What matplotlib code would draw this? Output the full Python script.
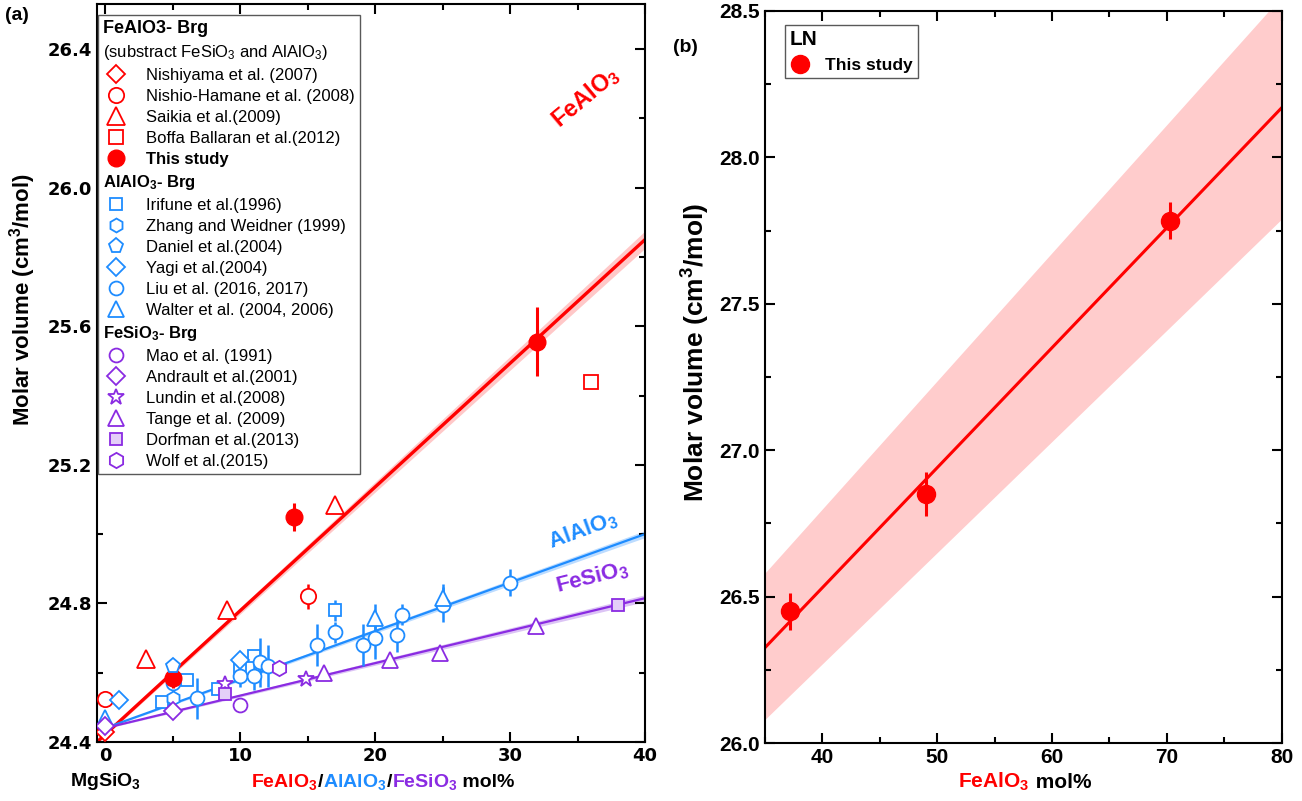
import numpy as np
import matplotlib
matplotlib.use('Agg')
import matplotlib.pyplot as plt
from matplotlib.lines import Line2D
from matplotlib.offsetbox import TextArea, HPacker, AnchoredOffsetbox
from matplotlib.ticker import MultipleLocator, FormatStrFormatter

plt.rcParams['font.family'] = ['Liberation Sans', 'DejaVu Sans']
plt.rcParams['mathtext.fontset'] = 'custom'
plt.rcParams['mathtext.rm'] = 'Liberation Sans'
plt.rcParams['mathtext.it'] = 'Liberation Sans:italic'
plt.rcParams['mathtext.bf'] = 'Liberation Sans:bold'

RED = '#ff0000'
BLUE = '#1e8cff'
PURPLE = '#8a2be2'

# ---- panel (a) data: FeAlO3 (red) ----
nishiyama_x = [0]
nishiyama_y = [24.43]
nishio_x = [0, 15]
nishio_y = [24.525, 24.82]
nishio_err = [0.02, 0.036]
saikia_x = [3, 9, 17]
saikia_y = [24.64, 24.78, 25.085]
boffa_x = [36]
boffa_y = [25.44]
study_x = [5, 14, 32]
study_y = [24.585, 25.05, 25.555]
study_err = [0.03, 0.04, 0.10]

# ---- AlAlO3 (blue) ----
irifune_x = [4.2, 6.1, 8.4, 10, 11, 17]
irifune_y = [24.515, 24.578, 24.552, 24.615, 24.647, 24.78]
irifune_err = [0.0, 0.01, 0.0, 0.02, 0.0, 0.03]
zhang_x = [5]
zhang_y = [24.528]
zhang_err = [0.035]
daniel_x = [5]
daniel_y = [24.618]
yagi_x = [1, 10]
yagi_y = [24.52, 24.637]
liu_x = [5, 6.8, 10, 11, 11.5, 12.1, 15.7, 17, 19.1, 20, 21.6, 22, 25, 30]
liu_y = [24.57, 24.526, 24.59, 24.589, 24.63, 24.62, 24.68, 24.717, 24.68,
         24.70, 24.71, 24.767, 24.796, 24.86]
liu_err = [0.03, 0.06, 0.03, 0.04, 0.07, 0.06, 0.06, 0.03, 0.06,
           0.06, 0.05, 0.03, 0.05, 0.04]
walter_x = [0, 20, 25]
walter_y = [24.468, 24.757, 24.815]
walter_err = [0.02, 0.04, 0.04]

# ---- FeSiO3 (purple) ----
mao_x = [10]
mao_y = [24.507]
andrault_x = [0, 5]
andrault_y = [24.445, 24.49]
lundin_x = [8.9, 14.9]
lundin_y = [24.568, 24.582]
tange_x = [16.2, 21.1, 24.8, 31.9]
tange_y = [24.60, 24.637, 24.658, 24.736]
dorfman_x = [8.9, 38]
dorfman_y = [24.539, 24.796]
wolf_x = [12.9]
wolf_y = [24.613]

# fit lines (end points) and band half widths
fe_fit_x = [-0.6, 40]
fe_fit_y = [24.40, 25.85]
fe_band = [0.004, 0.025]
al_fit_x = [0, 40]
al_fit_y = [24.44, 25.0]
al_band = [0.002, 0.01]
si_fit_x = [0, 40]
si_fit_y = [24.44, 24.815]
si_band = [0.002, 0.01]

# ---- panel (b) data ----
ln_x = [37.2, 49, 70.3]
ln_y = [26.45, 26.85, 27.784]
ln_err = [0.063, 0.074, 0.063]
ln_fit_x = [35, 80]
ln_fit_y = [26.325, 28.17]
ln_band_lo = [26.08, 27.79]
ln_band_hi = [26.58, 28.55]


def pts(ax, x, y, marker, color, label, ms=10, yerr=None, mfc='white', z=4):
    if yerr is not None:
        ax.errorbar(x, y, yerr=yerr, fmt='none', ecolor=color,
                    elinewidth=1.8, capsize=0, zorder=z - 1)
    h, = ax.plot(x, y, linestyle='none', marker=marker, ms=ms, mfc=mfc,
                 mec=color, mew=1.3, label=label, zorder=z)
    return h


def head(text):
    return Line2D([], [], linestyle='none', label=text)


def fit(ax, x, y, hw, color, band, lw):
    x = np.array(x)
    y = np.array(y)
    hw = np.array(hw)
    ax.fill_between(x, y - hw, y + hw, color=band, lw=0, zorder=1)
    ax.plot(x, y, color=color, lw=lw, zorder=2)


def style(ax, fam, size):
    for s in ax.spines.values():
        s.set_linewidth(1.5)
    ax.tick_params(which='both', direction='in', top=True, right=True, width=1.5)
    ax.tick_params(which='major', length=7)
    ax.tick_params(which='minor', length=4)
    for t in ax.get_xticklabels() + ax.get_yticklabels():
        t.set_fontfamily(fam)
        t.set_fontweight('bold')
        t.set_fontsize(size)


fig = plt.figure(figsize=(13.02, 8.01), dpi=100)
ax = fig.add_axes([0.0745, 0.0737, 0.4209, 0.9213])
bx = fig.add_axes([0.5874, 0.0724, 0.3971, 0.9139])

# ---------- panel (a) ----------
fit(ax, fe_fit_x, fe_fit_y, fe_band, RED, '#ffc8c8', 2.4)
fit(ax, al_fit_x, al_fit_y, al_band, BLUE, '#bcdcff', 1.6)
fit(ax, si_fit_x, si_fit_y, si_band, PURPLE, '#dcc4f5', 1.6)

h_nishiyama = pts(ax, nishiyama_x, nishiyama_y, 'D', RED, 'Nishiyama et al. (2007)', ms=9)
h_nishio = pts(ax, nishio_x, nishio_y, 'o', RED, 'Nishio-Hamane et al. (2008)', ms=11, yerr=nishio_err)
h_saikia = pts(ax, saikia_x, saikia_y, '^', RED, 'Saikia et al.(2009)', ms=13)
h_boffa = pts(ax, boffa_x, boffa_y, 's', RED, 'Boffa Ballaran et al.(2012)', ms=10)

h_irifune = pts(ax, irifune_x, irifune_y, 's', BLUE, 'Irifune et al.(1996)', ms=9, yerr=irifune_err)
h_zhang = pts(ax, zhang_x, zhang_y, 'h', BLUE, 'Zhang and Weidner (1999)', ms=10, yerr=zhang_err)
h_liu = pts(ax, liu_x, liu_y, 'o', BLUE, 'Liu et al. (2016, 2017)', ms=10, yerr=liu_err)
h_walter = pts(ax, walter_x, walter_y, '^', BLUE, 'Walter et al. (2004, 2006)', ms=11, yerr=walter_err)
h_yagi = pts(ax, yagi_x, yagi_y, 'D', BLUE, 'Yagi et al.(2004)', ms=9)
h_daniel = pts(ax, daniel_x, daniel_y, 'p', BLUE, 'Daniel et al.(2004)', ms=11, z=6)

h_mao = pts(ax, mao_x, mao_y, 'o', PURPLE, 'Mao et al. (1991)', ms=10)
h_andrault = pts(ax, andrault_x, andrault_y, 'D', PURPLE, 'Andrault et al.(2001)', ms=9)
h_lundin = pts(ax, lundin_x, lundin_y, '*', PURPLE, 'Lundin et al.(2008)', ms=12)
h_tange = pts(ax, tange_x, tange_y, '^', PURPLE, 'Tange et al. (2009)', ms=11)
h_dorfman = pts(ax, dorfman_x, dorfman_y, 's', PURPLE, 'Dorfman et al.(2013)', ms=9, mfc='#e4cff8')
h_wolf = pts(ax, wolf_x, wolf_y, 'h', PURPLE, 'Wolf et al.(2015)', ms=11)

ax.errorbar(study_x, study_y, yerr=study_err, fmt='none', ecolor=RED, elinewidth=2.2, capsize=0, zorder=4)
h_study, = ax.plot(study_x, study_y, 'o', color=RED, ms=12, label='This study', zorder=4)

ax.set_xlim(-0.6, 40)
ax.set_ylim(24.4, 26.53)
ax.xaxis.set_major_locator(MultipleLocator(10))
ax.xaxis.set_minor_locator(MultipleLocator(5))
ax.yaxis.set_major_locator(MultipleLocator(0.4))
ax.yaxis.set_minor_locator(MultipleLocator(0.2))
ax.yaxis.set_major_formatter(FormatStrFormatter('%.1f'))
ax.set_ylabel('Molar volume (cm$^\\mathbf{3}$/mol)', fontsize=16, fontweight='bold')
ax.yaxis.set_label_coords(-0.108, 0.60)
style(ax, 'DejaVu Sans', 13)

ax.text(35.56, 26.26, r'FeAlO$_\mathbf{3}$', color=RED, fontsize=17, fontweight='bold',
        rotation=40, ha='center', va='center')
ax.text(35.4, 25.01, r'AlAlO$_\mathbf{3}$', color=BLUE, fontsize=16, fontweight='bold',
        rotation=20, ha='center', va='center')
ax.text(36.1, 24.874, r'FeSiO$_\mathbf{3}$', color=PURPLE, fontsize=16, fontweight='bold',
        rotation=14, ha='center', va='center')

handles = [head('FeAlO3- Brg'),
           head(r'(substract FeSiO$_3$ and AlAlO$_3$)'),
           h_nishiyama, h_nishio, h_saikia, h_boffa, h_study,
           head(r'AlAlO$_\mathbf{3}$- Brg'),
           h_irifune, h_zhang, h_daniel, h_yagi, h_liu, h_walter,
           head(r'FeSiO$_\mathbf{3}$- Brg'),
           h_mao, h_andrault, h_lundin, h_tange, h_dorfman, h_wolf]
head_idx = [0, 1, 7, 14]
bold_idx = [0, 6, 7, 14]

leg = ax.legend(handles=handles, loc='upper left', bbox_to_anchor=(0.002, 0.985),
                borderaxespad=0, fontsize=12, frameon=True, fancybox=False,
                edgecolor='0.35', framealpha=1, borderpad=0.3, handlelength=1.5,
                handletextpad=1.1, labelspacing=0.36, numpoints=1)
leg.get_frame().set_linewidth(1.0)
leg.set_zorder(10)
rows = leg._legend_handle_box.get_children()[0].get_children()
for i, row in enumerate(rows):
    if i in head_idx:
        row.get_children()[0].set_width(0)
        row.sep = 0
for i in bold_idx:
    leg.get_texts()[i].set_fontweight('bold')
leg.get_texts()[0].set_fontsize(13)

# x label of panel (a), coloured parts
parts = [(r'FeAlO$_\mathbf{3}$', RED), ('/', 'black'), (r'AlAlO$_\mathbf{3}$', BLUE),
         ('/', 'black'), (r'FeSiO$_\mathbf{3}$', PURPLE), (' mol%', 'black')]
boxes = [TextArea(t, textprops=dict(color=c, fontsize=14, fontweight='bold')) for t, c in parts]
lab = AnchoredOffsetbox(loc='center', child=HPacker(children=boxes, align='baseline', pad=0, sep=0),
                        pad=0, borderpad=0, frameon=False, bbox_to_anchor=(0.294, 0.024),
                        bbox_transform=fig.transFigure)
ax.add_artist(lab)
fig.text(0.081, 0.024, r'MgSiO$_\mathbf{3}$', fontsize=14, fontweight='bold', ha='center', va='center')
fig.text(0.004, 0.975, '(a)', fontsize=14, fontweight='bold')

# ---------- panel (b) ----------
bx.fill_between(ln_fit_x, ln_band_lo, ln_band_hi, color='#ffcccc', lw=0, zorder=1)
bx.plot(ln_fit_x, ln_fit_y, color=RED, lw=2.2, zorder=2)
bx.errorbar(ln_x, ln_y, yerr=ln_err, fmt='none', ecolor=RED, elinewidth=2.2, capsize=0, zorder=3)
h_ln, = bx.plot(ln_x, ln_y, 'o', color=RED, ms=13, label='This study', zorder=4)

bx.set_xlim(35, 80)
bx.set_ylim(26.0, 28.5)
bx.xaxis.set_major_locator(MultipleLocator(10))
bx.xaxis.set_minor_locator(MultipleLocator(5))
bx.yaxis.set_major_locator(MultipleLocator(0.5))
bx.yaxis.set_minor_locator(MultipleLocator(0.25))
bx.yaxis.set_major_formatter(FormatStrFormatter('%.1f'))
bx.set_ylabel('Molar volume (cm$^\\mathbf{3}$/mol)', fontsize=19, fontweight='bold')
bx.yaxis.set_label_coords(-0.103, 0.533)
style(bx, 'Liberation Sans', 15)

leg2 = bx.legend(handles=[h_ln], title='LN', loc='upper left', bbox_to_anchor=(0.0387, 0.981),
                 borderaxespad=0, fontsize=12.5, title_fontproperties=dict(weight='bold', size=15),
                 alignment='left', frameon=True, fancybox=False, edgecolor='0.35', framealpha=1,
                 borderpad=0.3, handlelength=1.2, handletextpad=0.8, numpoints=1)
leg2.get_frame().set_linewidth(1.0)
leg2.get_texts()[0].set_fontweight('bold')

bparts = [(r'FeAlO$_\mathbf{3}$', RED), (' mol%', 'black')]
bboxes = [TextArea(t, textprops=dict(color=c, fontsize=15, fontweight='bold')) for t, c in bparts]
blab = AnchoredOffsetbox(loc='center', child=HPacker(children=bboxes, align='baseline', pad=0, sep=0),
                         pad=0, borderpad=0, frameon=False, bbox_to_anchor=(0.787, 0.024),
                         bbox_transform=fig.transFigure)
bx.add_artist(blab)
fig.text(0.517, 0.935, '(b)', fontsize=14, fontweight='bold')

fig.savefig('out.png', dpi=100)
